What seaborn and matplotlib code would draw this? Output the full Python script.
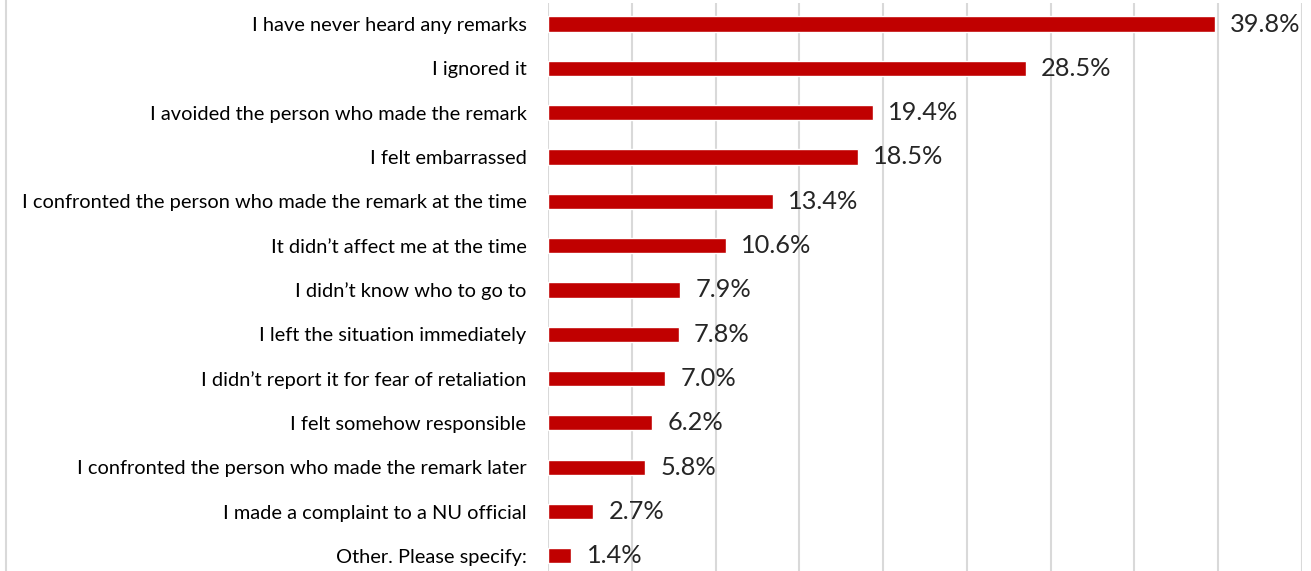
import matplotlib
matplotlib.use('Agg')
import matplotlib.pyplot as plt
import seaborn as sns
from matplotlib.lines import Line2D

responses = [
    'I have never heard any remarks',
    'I ignored it',
    'I avoided the person who made the remark',
    'I felt embarrassed',
    'I confronted the person who made the remark at the time',
    'It didn’t affect me at the time',
    'I didn’t know who to go to',
    'I left the situation immediately',
    'I didn’t report it for fear of retaliation',
    'I felt somehow responsible',
    'I confronted the person who made the remark later',
    'I made a complaint to a NU official',
    'Other. Please specify:',
]
percent = [39.8, 28.5, 19.4, 18.5, 13.4, 10.6, 7.9, 7.8, 7.0, 6.2, 5.8, 2.7, 1.4]

sns.set_style('white')
plt.rcParams['font.family'] = ['Lato', 'DejaVu Sans']

fig = plt.figure(figsize=(13.11, 5.71), dpi=100)
ax = fig.add_axes([548 / 1311, 0, (1302 - 548) / 1311, 568 / 571])

sns.barplot(x=percent, y=responses, color='#C00000', width=0.34,
            saturation=1, orient='h', ax=ax)

ax.set_xlim(0, 45)
ax.set_ylim(12.34, -0.474)
ax.set_xticks(range(0, 46, 5))
ax.xaxis.grid(True, color='#d9d9d9', linewidth=1.5)
ax.set_axisbelow(True)
ax.tick_params(axis='x', bottom=False, labelbottom=False)
ax.tick_params(axis='y', left=False, labelsize=14.4, pad=12, colors='#000000')
for s in ax.spines.values():
    s.set_visible(False)
ax.set(xlabel='', ylabel='')

labels = ax.bar_label(ax.containers[0], fmt='%.1f%%', padding=11, fontsize=18.3)
for t in labels:
    t.set_va('center')
    t.set_y(t.get_position()[1])

# chart border on the far left
fig.add_artist(Line2D([6 / 1311, 6 / 1311], [0, 1], color='#d9d9d9', linewidth=1.5))

fig.savefig('out.png', dpi=100)
